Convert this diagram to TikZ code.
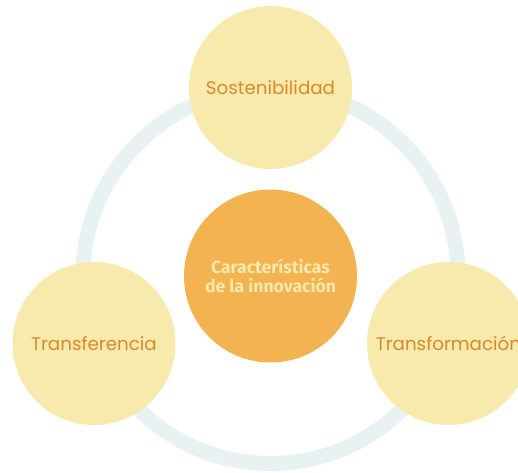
\documentclass[tikz,border=0pt]{standalone}
\usepackage{fontspec}
\setmainfont{Poppins}
\newfontfamily\centrefont{Fira Sans}
\definecolor{ringblue}{HTML}{E8F2F3}
\definecolor{petal}{HTML}{F8E9AC}
\definecolor{labelorange}{HTML}{D98A2B}
\definecolor{coreorange}{HTML}{F2B350}
\tikzset{
  petalnode/.style={circle, fill=petal, minimum size=163pt, inner sep=0pt,
    text=labelorange, font=\fontsize{18.3}{22}\selectfont},
  corenode/.style={circle, fill=coreorange, minimum size=173pt, inner sep=0pt,
    text=petal, align=center, font=\centrefont\bfseries\fontsize{17.6}{19.5}\selectfont},
}
\begin{document}
\begin{tikzpicture}[x=1pt,y=1pt]
  \useasboundingbox (0,0) rectangle (518,-472);
  \clip (0,0) rectangle (518,-472);
  % background ring joining the three themes
  \draw[ringblue, line width=15pt] (270.5,-276) circle[radius=187.5];
  % central concept
  \node[corenode] (core) at (270.5,-276) {Características\\de la innovación};
  % the three themes on the ring
  \node[petalnode] (sost) at (270.5,-87.5) {Sostenibilidad};
  \node[petalnode] (trans) at (94,-343.5) {Transferencia};
  \node[petalnode] (transf) at (448.5,-343.5) {Transformación};
\end{tikzpicture}
\end{document}
